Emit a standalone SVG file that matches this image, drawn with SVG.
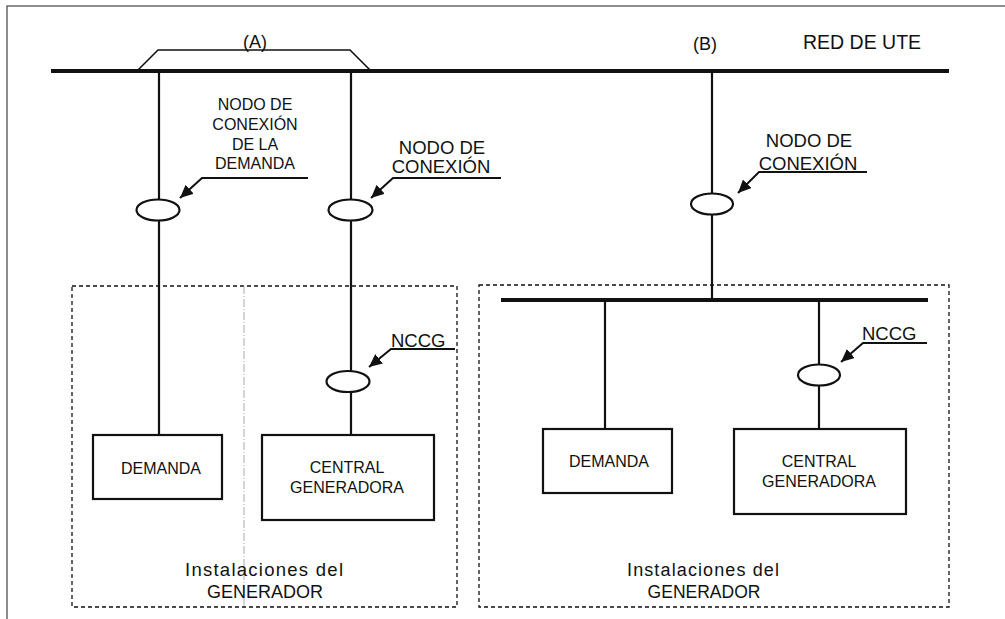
<svg xmlns="http://www.w3.org/2000/svg" width="1005" height="619" viewBox="0 0 1005 619">
  <style>
    text { font-family: "Liberation Sans", Arial, sans-serif; fill: #111; }
    .lbl { font-size: 18.5px; }
    .small { font-size: 16px; }
    .box { fill: #fff; stroke: #111; stroke-width: 2.2; }
    .node { fill: #fff; stroke: #111; stroke-width: 2.2; }
    .wire { stroke: #111; stroke-width: 2.2; fill: none; }
    .bus { stroke: #111; stroke-width: 3.8; fill: none; }
    .leader { stroke: #111; stroke-width: 2; fill: none; }
    .zone { fill: none; stroke: #111; stroke-width: 1.3; stroke-dasharray: 4 3; }
  </style>
  <defs>
    <marker id="arrow" markerUnits="userSpaceOnUse" markerWidth="14" markerHeight="12" refX="13" refY="6" orient="auto">
      <path d="M0,0 L13,6 L0,12 Z" fill="#111"/>
    </marker>
  </defs>

  <rect width="1005" height="619" fill="#fff"/>
  <!-- page frame -->
  <rect x="7" y="6" width="1100" height="700" fill="none" stroke="#444" stroke-width="1.2"/>

  <!-- generator installation zones -->
  <g id="zone-a">
    <rect class="zone" x="72" y="286" width="385" height="321"/>
    <line x1="244" y1="286" x2="244" y2="607" stroke="#aaa" stroke-width="1" stroke-dasharray="8 2 1 2"/>
    <text x="264" y="576" text-anchor="middle" font-size="18.5" textLength="158" lengthAdjust="spacing">Instalaciones del</text>
    <text x="265" y="598" text-anchor="middle" font-size="18">GENERADOR</text>
  </g>
  <g id="zone-b">
    <rect class="zone" x="479" y="285" width="470" height="322"/>
    <text x="703" y="576" text-anchor="middle" font-size="18" textLength="152" lengthAdjust="spacing">Instalaciones del</text>
    <text x="704" y="598" text-anchor="middle" font-size="17.5">GENERADOR</text>
  </g>

  <!-- utility network -->
  <g id="red-ute">
    <line class="bus" x1="51" y1="71" x2="949" y2="71"/>
    <polyline points="138,70 158,50 350,50 370,70" fill="none" stroke="#111" stroke-width="1.6"/>
    <text x="255" y="48" text-anchor="middle" font-size="18">(A)</text>
    <text x="705" y="50" text-anchor="middle" font-size="18">(B)</text>
    <text x="803" y="49" font-size="19.5">RED DE UTE</text>
  </g>

  <!-- connectors -->
  <g id="connectors">
    <line class="wire" x1="159" y1="71" x2="159" y2="435"/>
    <line class="wire" x1="351" y1="71" x2="351" y2="435"/>
    <line class="wire" x1="712" y1="71" x2="712" y2="300"/>
    <line class="bus" x1="501" y1="300" x2="928" y2="300" stroke-width="2.6"/>
    <line class="wire" x1="605" y1="300" x2="605" y2="429"/>
    <line class="wire" x1="819" y1="300" x2="819" y2="429"/>

    <!-- label leaders -->
    <polyline class="leader" points="308,178 202,178 180,198" marker-end="url(#arrow)"/>
    <polyline class="leader" points="501,178 393,178 371,198" marker-end="url(#arrow)"/>
    <polyline class="leader" points="867,172 759,172 738,193" marker-end="url(#arrow)"/>
    <polyline class="leader" points="455,349 391,349 369,367" marker-end="url(#arrow)"/>
    <polyline class="leader" points="927,343 863,343 841,362" marker-end="url(#arrow)"/>
  </g>

  <!-- connection nodes -->
  <g id="nodo-demanda">
    <ellipse class="node" cx="158" cy="210" rx="21.5" ry="10.5"/>
    <text class="small" x="255" y="110" text-anchor="middle">NODO DE</text>
    <text class="small" x="255" y="130" text-anchor="middle">CONEXIÓN</text>
    <text class="small" x="255" y="150" text-anchor="middle">DE LA</text>
    <text class="small" x="255" y="169" text-anchor="middle">DEMANDA</text>
  </g>
  <g id="nodo-conexion-a">
    <ellipse class="node" cx="350.5" cy="210" rx="22" ry="10.5"/>
    <text class="lbl" x="442" y="154" text-anchor="middle">NODO DE</text>
    <text class="lbl" x="441" y="173" text-anchor="middle">CONEXIÓN</text>
  </g>
  <g id="nodo-conexion-b">
    <ellipse class="node" cx="712" cy="204" rx="21" ry="10.5"/>
    <text class="lbl" x="809" y="147" text-anchor="middle">NODO DE</text>
    <text class="lbl" x="808" y="170" text-anchor="middle">CONEXIÓN</text>
  </g>
  <g id="nccg-a">
    <ellipse class="node" cx="348" cy="381.5" rx="21.5" ry="10.5"/>
    <text class="lbl" x="391" y="347" font-size="18">NCCG</text>
  </g>
  <g id="nccg-b">
    <ellipse class="node" cx="819" cy="375" rx="21" ry="10.5"/>
    <text class="lbl" x="862" y="340" font-size="18">NCCG</text>
  </g>

  <!-- loads and plants -->
  <g id="demanda-a">
    <rect class="box" x="93" y="435" width="129" height="64"/>
    <text class="small" x="161" y="474" text-anchor="middle">DEMANDA</text>
  </g>
  <g id="central-a">
    <rect class="box" x="262" y="435" width="172" height="85"/>
    <text class="small" x="347" y="473" text-anchor="middle">CENTRAL</text>
    <text class="small" x="347" y="493" text-anchor="middle">GENERADORA</text>
  </g>
  <g id="demanda-b">
    <rect class="box" x="543" y="429" width="129" height="64"/>
    <text class="small" x="609" y="467" text-anchor="middle">DEMANDA</text>
  </g>
  <g id="central-b">
    <rect class="box" x="734" y="429" width="172" height="85"/>
    <text class="small" x="819" y="467" text-anchor="middle">CENTRAL</text>
    <text class="small" x="819" y="487" text-anchor="middle">GENERADORA</text>
  </g>
</svg>
